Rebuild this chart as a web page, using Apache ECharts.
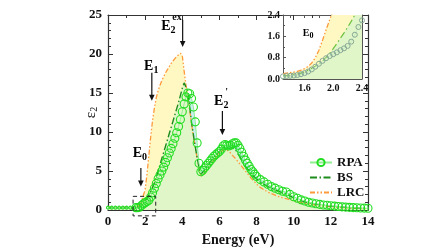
<!DOCTYPE html>
<html><head><meta charset="utf-8">
<script src="https://cdn.jsdelivr.net/npm/echarts@6/dist/echarts.min.js"></script>
<style>html,body{margin:0;padding:0;background:#fff}#c{width:448px;height:252px}</style>
</head><body><div id="c"></div>
<script>
// ---- main chart data (Energy in eV) ----
const energy = [0.0,0.2,0.4,0.6,0.8,1.0,1.2,1.4,
1.5,1.6,1.7,1.8,1.9,2.0,2.1,2.2,2.3,2.4,2.5,2.6,2.7,2.8,2.9,3.0,3.1,3.2,3.3,3.4,3.5,3.6,3.7,3.8,3.9,4.0,
4.1,4.2,4.3,4.4,4.5,4.6,4.7,4.8,4.9,5.0,5.1,5.2,5.3,5.4,5.5,5.6,5.7,5.8,5.9,6.0,6.1,6.2,6.3,6.4,6.5,6.6,6.7,6.8,6.9,7.0,
7.1,7.2,7.3,7.4,7.5,7.6,7.7,7.8,7.9,8.0,
8.2,8.4,8.6,8.8,9.0,9.2,9.4,9.6,9.8,10.0,10.2,10.4,10.6,10.8,11.0,11.2,11.4,11.6,11.8,12.0,12.2,12.4,12.6,12.8,13.0,13.2,13.4,13.6,13.8,14.0];
const rpa = [0.3,0.3,0.3,0.3,0.3,0.3,0.3,0.3,
0.3,0.3,0.36,0.57,0.78,0.93,1.08,1.24,1.66,2.2,2.8,3.4,4.0,4.5,5.0,5.5,6.1,6.7,7.3,7.9,8.5,9.2,9.9,10.7,11.6,12.6,
13.6,14.5,15.0,14.9,14.3,13.2,11.3,8.6,6.0,4.9,5.1,5.4,5.7,6.0,6.3,6.6,6.9,7.1,7.3,7.5,7.8,8.2,8.4,8.3,8.2,8.3,8.5,8.6,8.6,8.3,
7.9,7.4,6.9,6.4,6.0,5.6,5.2,4.9,4.6,4.3,
3.9,3.6,3.3,3.0,2.8,2.6,2.4,2.3,2.0,1.7,1.5,1.3,1.15,1.0,0.9,0.8,0.72,0.65,0.6,0.55,0.5,0.45,0.4,0.37,0.34,0.31,0.28,0.26,0.24,0.22];
const bs = [0.3,0.3,0.3,0.3,0.3,0.3,0.3,0.3,
0.3,0.3,0.42,0.57,0.8,1.14,1.53,1.94,2.4,2.9,3.5,4.2,5.0,5.8,6.6,7.4,8.2,9.0,9.8,10.6,11.4,12.2,13.0,13.8,14.7,15.6,
16.3,16.5,15.2,13.2,11.2,9.6,8.1,6.7,5.5,4.6,4.8,5.1,5.5,5.8,6.2,6.5,6.8,7.1,7.3,7.5,7.8,8.0,8.1,8.0,7.9,7.9,8.0,7.9,7.6,7.2,
6.8,6.4,6.0,5.6,5.3,5.0,4.7,4.4,4.2,4.0,
3.6,3.3,3.0,2.8,2.6,2.4,2.2,2.1,1.8,1.55,1.35,1.2,1.05,0.95,0.85,0.75,0.68,0.62,0.56,0.5,0.46,0.42,0.38,0.34,0.31,0.28,0.26,0.24,0.22,0.2];
const lrc = [0.35,0.35,0.35,0.35,0.35,0.35,0.35,0.35,
0.3,0.39,0.6,1.08,1.85,2.6,4.6,7.0,9.4,11.5,13.1,14.4,15.3,16.0,16.6,17.1,17.6,18.0,18.4,18.8,19.1,19.4,19.7,19.9,20.1,19.8,
17.8,16.0,14.5,12.8,11.0,9.5,8.0,6.7,5.5,4.3,4.4,4.7,5.0,5.3,5.7,6.0,6.4,6.7,7.0,7.3,7.5,7.7,7.8,7.7,7.5,7.3,7.0,6.8,6.5,6.2,
5.9,5.6,5.3,5.0,4.7,4.4,4.1,3.9,3.6,3.3,
2.9,2.6,2.3,2.1,1.9,1.7,1.55,1.45,1.3,1.15,1.05,0.95,0.85,0.78,0.7,0.63,0.57,0.52,0.47,0.43,0.39,0.35,0.32,0.29,0.26,0.23,0.21,0.19,0.17,0.15];

// ---- inset data ----
const energyIn = [1.30,1.35,1.40,1.45,1.50,1.55,1.60,1.65,1.70,1.75,1.80,1.85,1.90,1.95,2.00,2.05,2.10,2.15,2.20,2.25,2.30,2.35,2.40];
const rpaIn = [0.10,0.11,0.12,0.13,0.15,0.18,0.22,0.28,0.36,0.46,0.57,0.68,0.78,0.86,0.93,1.00,1.08,1.15,1.24,1.40,1.66,1.95,2.20];
const bsIn  = [0.12,0.13,0.14,0.16,0.18,0.22,0.27,0.33,0.40,0.48,0.57,0.67,0.80,0.96,1.14,1.33,1.53,1.73,1.94,2.16,2.40,2.65,2.90];
const lrcIn = [0.20,0.22,0.24,0.26,0.29,0.33,0.39,0.47,0.60,0.80,1.08,1.45,1.85,2.22,2.60,3.00,3.60,4.20,4.90,5.60,6.40,7.20,8.00];

// ---- axis ticks ----
const xLabelsIn = [1.6,2.0,2.4];
const xTicksIn = [1.4,1.6,1.8,2.0,2.2,2.4];
const yLabelsIn = [0.0,0.8,1.6,2.4];

// ---- annotations (data coordinates) ----
const arrows = [ {x:1.77, y0:5.4, y1:3.0}, {x:2.36, y0:17.6, y1:14.0}, {x:4.02, y0:24.4, y1:20.9}, {x:6.16, y0:12.7, y1:9.6} ];
const zoomBox = {x0:1.35, x1:2.57, y0:-0.75, y1:1.75};

const pair = (xs, ys) => xs.map((x,i)=>[x, ys[i]]);
const SERIF = '"Liberation Serif","DejaVu Serif",serif';
const C_YEL = '#fff8c2', C_GRN = '#e1f6c8', C_CYN = '#c5f0ee';
const C_RPA = '#22dd22', C_RPAL = '#90f090', C_BS = '#1e8c1e', C_LRC = '#ff9a3c';
const DASH_BS = [7,2.5,1.5,2.5], DASH_LRC = [5,2,1.5,2,1.5,2];

const chart = echarts.init(document.getElementById('c'), null, {renderer:'canvas'});

function axisX(grid, pos, min, max, opts) {
  return Object.assign({
    type:'value', gridIndex:grid, position:pos, min:min, max:max,
    axisLine:{show:true, onZero:false, lineStyle:{color:'#333', width:1.2}},
    axisTick:{show:true, inside:true, length:5, lineStyle:{color:'#333'}},
    minorTick:{show:true, splitNumber:2, length:3, lineStyle:{color:'#333'}},
    splitLine:{show:false},
    axisLabel:{show:pos==='bottom', color:'#111', fontFamily:SERIF, fontWeight:'bold', fontSize:13, margin:5}
  }, opts||{});
}
function axisY(grid, pos, min, max, opts) {
  return Object.assign({
    type:'value', gridIndex:grid, position:pos, min:min, max:max,
    axisLine:{show:true, onZero:false, lineStyle:{color:'#333', width:1.2}},
    axisTick:{show:true, inside:true, length:5, lineStyle:{color:'#333'}},
    minorTick:{show:true, splitNumber:5, length:3, lineStyle:{color:'#333'}},
    splitLine:{show:false},
    axisLabel:{show:pos==='left', color:'#111', fontFamily:SERIF, fontWeight:'bold', fontSize:13, margin:6}
  }, opts||{});
}

const fill = (name, data, color, xi, yi, z) => ({
  name:name, type:'line', data:data, xAxisIndex:xi, yAxisIndex:yi, showSymbol:false, symbol:'none',
  lineStyle:{width:0, opacity:0}, areaStyle:{color:color, opacity:1, origin:'start'}, z:z, silent:true, legendHoverLink:false
});
// small markers along the flat, sub-gap part so they merge into a thick line
const rpaPoints = pair(energy, rpa).map(p => p[0] < 1.45 ? {value:p, symbolSize:3} : p);

const option = {
  animation:false,
  grid:[
    {left:108, right:80, top:15, bottom:38},
    {left:283, right:86, top:15, bottom:173, show:true, backgroundColor:'#fff', borderWidth:0}
  ],
  legend:{
    data:[
      {name:'RPA'},
      {name:'BS', itemStyle:{opacity:0}, lineStyle:{type:DASH_BS, width:1.8, color:C_BS}},
      {name:'LRC', itemStyle:{opacity:0}, lineStyle:{type:DASH_LRC, width:1.8, color:C_LRC}}
    ],
    orient:'vertical', left:309, top:155, padding:0, itemWidth:22, itemHeight:9, itemGap:0, itemStyle:{},
    textStyle:{fontFamily:SERIF, fontWeight:'bold', fontSize:13, color:'#111', lineHeight:15}, selectedMode:false
  },
  xAxis:[
    axisX(0,'bottom',0,14,{interval:2, name:'Energy (eV)', nameLocation:'middle', nameGap:23, nameMoveOverlap:false,
      nameTextStyle:{fontFamily:SERIF, fontWeight:'bold', fontSize:14, color:'#111'}}),
    axisX(0,'top',0,14,{interval:2}),
    axisX(1,'bottom',1.3,2.4,{
      axisLabel:{show:true, customValues:xLabelsIn, formatter:v=>v.toFixed(1), color:'#111', fontFamily:SERIF, fontWeight:'bold', fontSize:10, margin:4},
      axisTick:{show:true, inside:true, length:3, customValues:xTicksIn, lineStyle:{color:'#555'}},
      minorTick:{show:false}, axisLine:{show:true,onZero:false,lineStyle:{color:'#555',width:1}}}),
    axisX(1,'top',1.3,2.4,{
      axisTick:{show:true, inside:true, length:3, customValues:xTicksIn, lineStyle:{color:'#555'}},
      minorTick:{show:false}, axisLine:{show:true,onZero:false,lineStyle:{color:'#555',width:1}}})
  ],
  yAxis:[
    axisY(0,'left',0,25,{interval:5, name:'{e|ε}{s|2}', nameLocation:'middle', nameGap:9, nameRotate:90, nameMoveOverlap:false,
      nameTextStyle:{rich:{e:{fontFamily:SERIF, fontSize:15, color:'#111'}, s:{fontFamily:SERIF, fontSize:10, color:'#111', padding:[6,0,0,0]}}}}),
    axisY(0,'right',0,25,{interval:5}),
    axisY(1,'left',0,2.4,{interval:0.8,
      axisLabel:{show:true, customValues:yLabelsIn, formatter:v=>v.toFixed(1), color:'#111', fontFamily:SERIF, fontWeight:'bold', fontSize:10, margin:3},
      axisTick:{show:true, inside:true, length:3, lineStyle:{color:'#555'}},
      minorTick:{show:true, splitNumber:2, length:2, lineStyle:{color:'#555'}}, axisLine:{show:true,onZero:false,lineStyle:{color:'#555',width:1}}}),
    axisY(1,'right',0,2.4,{interval:0.8,
      axisTick:{show:true, inside:true, length:3, lineStyle:{color:'#555'}},
      minorTick:{show:true, splitNumber:2, length:2, lineStyle:{color:'#555'}}, axisLine:{show:true,onZero:false,lineStyle:{color:'#555',width:1}}})
  ],
  series:[
    fill('fLRC', pair(energy,lrc), C_YEL, 0,0,1),
    fill('fRPA', pair(energy,rpa), C_CYN, 0,0,1),
    fill('fBS',  pair(energy,bs),  C_GRN, 0,0,1),
    {name:'LRC', type:'line', data:pair(energy,lrc), xAxisIndex:0, yAxisIndex:0, symbol:'none', showSymbol:false, z:3,
      lineStyle:{color:C_LRC, width:1.3, type:DASH_LRC}, itemStyle:{color:C_LRC}},
    {name:'BS', type:'line', data:pair(energy,bs), xAxisIndex:0, yAxisIndex:0, symbol:'none', showSymbol:false, z:4,
      lineStyle:{color:C_BS, width:1.4, type:DASH_BS}, itemStyle:{color:C_BS}},
    {name:'RPA', type:'line', data:rpaPoints, xAxisIndex:0, yAxisIndex:0, symbol:'circle', symbolSize:8, showSymbol:true, showAllSymbol:true, z:5,
      lineStyle:{color:C_RPAL, width:1}, itemStyle:{color:'rgba(0,0,0,0)', borderColor:C_RPA, borderWidth:1.1}},
    // inset
    fill('fLRCin', pair(energyIn,lrcIn), C_YEL, 2,2,6),
    fill('fBSin',  pair(energyIn,bsIn),  C_GRN, 2,2,6),
    {name:'LRCin', type:'line', data:pair(energyIn,lrcIn), xAxisIndex:2, yAxisIndex:2, symbol:'none', z:7,
      lineStyle:{color:C_LRC, width:1.3, type:DASH_LRC}},
    {name:'BSin', type:'line', data:pair(energyIn,bsIn), xAxisIndex:2, yAxisIndex:2, symbol:'none', z:7,
      lineStyle:{color:'#6cc040', width:1.2, type:[7,3,1.5,3]}},
    {name:'RPAin', type:'line', data:pair(energyIn,rpaIn), xAxisIndex:2, yAxisIndex:2, symbol:'circle', symbolSize:5, z:8,
      lineStyle:{color:'#bfe8bf', width:0.8}, itemStyle:{color:'rgba(0,0,0,0)', borderColor:'#86a896', borderWidth:1}}
  ]
};
chart.setOption(option);

// ---- annotations positioned through the chart's own scales ----
const P = (x,y) => chart.convertToPixel({xAxisIndex:0, yAxisIndex:0}, [x,y]);
const PI = (x,y) => chart.convertToPixel({xAxisIndex:2, yAxisIndex:2}, [x,y]);
const g = [];
arrows.forEach(a => {
  const p0 = P(a.x,a.y0), p1 = P(a.x,a.y1);
  g.push({type:'line', shape:{x1:p0[0],y1:p0[1],x2:p1[0],y2:p1[1]-5}, style:{stroke:'#111', lineWidth:1.2}, z:20});
  g.push({type:'polygon', shape:{points:[[p1[0]-2.8,p1[1]-6],[p1[0]+2.8,p1[1]-6],[p1[0],p1[1]]]}, style:{fill:'#111'}, z:20});
});
const lab = (pos, main, sub, sup) => {
  const r = {e:{fontFamily:SERIF, fontSize:14, fontWeight:'bold', color:'#111'},
             s:{fontFamily:SERIF, fontSize:10, fontWeight:'bold', color:'#111', padding:[7,0,0,0]}};
  g.push({type:'text', x:pos[0], y:pos[1], style:{text:'{e|'+main+'}{s|'+sub+'}', rich:r, align:'center', verticalAlign:'middle'}, z:21});
  if (sup) {
    g.push({type:'text', x:pos[0]+4, y:pos[1]-9, style:{text:sup, fontFamily:SERIF, fontSize:10, fontWeight:'bold', fill:'#111', align:'left', verticalAlign:'middle'}, z:21});
  }
};
lab(P(1.72,7.2), 'E', '0');
lab(P(2.33,18.4), 'E', '1');
lab(P(3.25,23.5), 'E', '2', 'ex');
lab(P(6.1,13.9), 'E', '2', "'");
// inset label
(function(){
  const p = PI(1.65,1.7);
  g.push({type:'text', x:p[0], y:p[1], style:{text:'{e|E}{s|0}', rich:{e:{fontFamily:SERIF,fontSize:10,fontWeight:'bold',color:'#111'}, s:{fontFamily:SERIF,fontSize:8,fontWeight:'bold',color:'#111',padding:[4,0,0,0]}}, align:'center', verticalAlign:'middle'}, z:21});
})();
// dashed zoom box
(function(){
  const a = P(zoomBox.x0, zoomBox.y1), b = P(zoomBox.x1, zoomBox.y0);
  g.push({type:'rect', shape:{x:a[0], y:a[1], width:b[0]-a[0], height:b[1]-a[1]}, style:{fill:'none', stroke:'#222', lineWidth:1, lineDash:[4,3]}, z:19});
})();
chart.setOption({graphic:g});
</script></body></html>
